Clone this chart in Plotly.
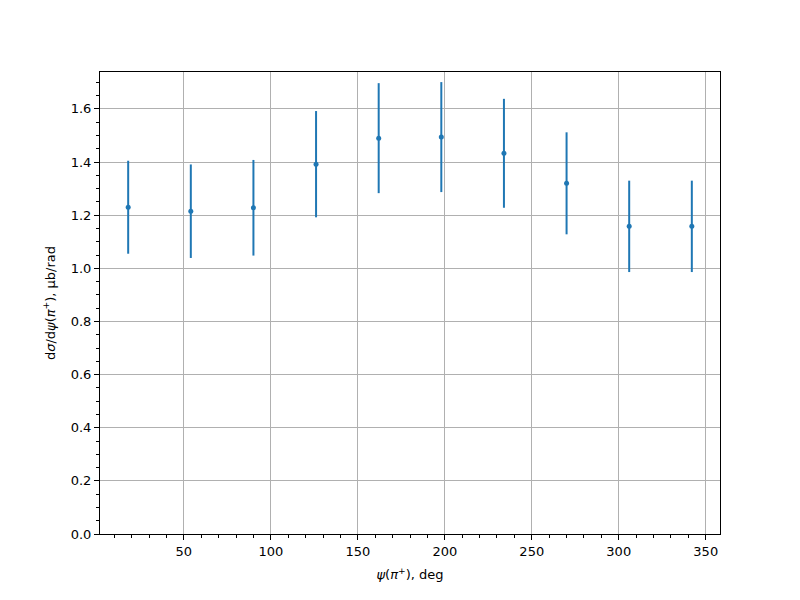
import plotly.graph_objects as go

# pion azimuthal angle bins (deg) and measured cross section
psi_deg = [18, 54, 90, 126, 162, 198, 234, 270, 306, 342]
dsigma = [1.230, 1.215, 1.228, 1.392, 1.490, 1.494, 1.433, 1.320, 1.158, 1.158]
dsigma_err = [0.175, 0.176, 0.180, 0.200, 0.207, 0.207, 0.205, 0.192, 0.172, 0.172]

y_ticks = [0.0, 0.2, 0.4, 0.6, 0.8, 1.0, 1.2, 1.4, 1.6]
x_ticks = [50, 100, 150, 200, 250, 300, 350]

blue = "#1f77b4"
font = dict(family="DejaVu Sans, sans-serif", size=13, color="black")

fig = go.Figure(go.Scatter(
    x=psi_deg,
    y=dsigma,
    mode="markers",
    marker=dict(color=blue, size=5),
    error_y=dict(type="data", array=dsigma_err, color=blue, thickness=2, width=0),
    showlegend=False,
))

axis_common = dict(
    showline=True, mirror=True, linecolor="black", linewidth=1,
    ticks="outside", ticklen=5, tickwidth=1, tickcolor="black",
    showgrid=True, gridcolor="#b0b0b0", gridwidth=1,
    zeroline=False, tickfont=font,
)

fig.update_xaxes(
    range=[1.8, 358.2], tickvals=x_ticks,
    minor=dict(ticks="outside", dtick=10, tick0=0, ticklen=3, tickcolor="black", showgrid=False),
    title=dict(text="<i>ψ</i>(<i>π</i><sup>+</sup>), deg", font=font, standoff=12),
    **axis_common,
)
fig.update_yaxes(
    range=[0, 1.739], tickvals=y_ticks, tickformat=".1f",
    minor=dict(ticks="outside", dtick=0.05, tick0=0, ticklen=3, tickcolor="black", showgrid=False),
    title=dict(text="d<i>σ</i>/d<i>ψ</i>(<i>π</i><sup>+</sup>), μb/rad", font=font, standoff=12),
    **axis_common,
)

fig.update_layout(
    width=800, height=600,
    margin=dict(l=92, r=88, t=64, b=74),
    plot_bgcolor="white", paper_bgcolor="white",
    font=font,
)

fig.write_html("out.html")
